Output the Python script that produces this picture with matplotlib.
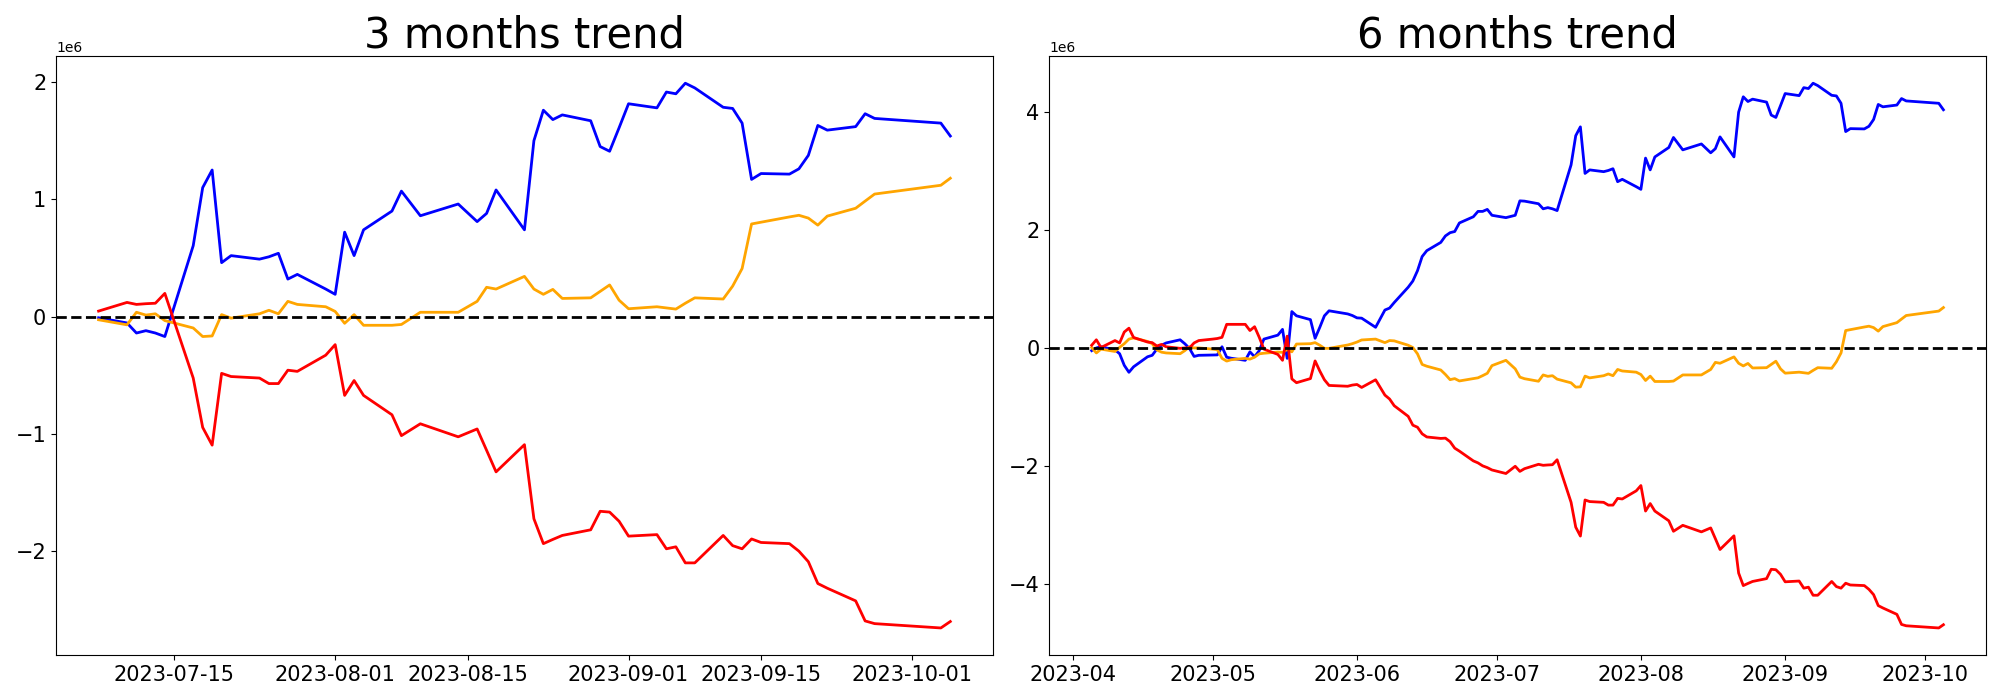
"""Recreate the 3 and 6 month trend chart."""

import matplotlib

matplotlib.use("Agg")
import matplotlib.pyplot as plt
import pandas as pd


# ---- 3 months panel (values in 1e6) ----
DATES_3M = [
    "2023-07-07", "2023-07-10", "2023-07-11", "2023-07-12", "2023-07-13", "2023-07-14",
    "2023-07-17", "2023-07-18", "2023-07-19", "2023-07-20", "2023-07-21", "2023-07-24",
    "2023-07-25", "2023-07-26", "2023-07-27", "2023-07-28", "2023-07-31", "2023-08-01",
    "2023-08-02", "2023-08-03", "2023-08-04", "2023-08-07", "2023-08-08", "2023-08-10",
    "2023-08-14", "2023-08-16", "2023-08-17", "2023-08-18", "2023-08-21", "2023-08-22",
    "2023-08-23", "2023-08-24", "2023-08-25", "2023-08-28", "2023-08-29", "2023-08-30",
    "2023-08-31", "2023-09-01", "2023-09-04", "2023-09-05", "2023-09-06", "2023-09-07",
    "2023-09-08", "2023-09-11", "2023-09-12", "2023-09-13", "2023-09-14", "2023-09-15",
    "2023-09-18", "2023-09-19", "2023-09-20", "2023-09-21", "2023-09-22", "2023-09-25",
    "2023-09-26", "2023-09-27", "2023-10-04", "2023-10-05",
]
BLUE_3M = [
    -0.01, -0.054, -0.14, -0.12, -0.14, -0.17,
    0.605, 1.10, 1.25, 0.46, 0.52, 0.49,
    0.51, 0.54, 0.32, 0.36, 0.235, 0.19,
    0.72, 0.52, 0.74, 0.90, 1.07, 0.86,
    0.96, 0.81, 0.88, 1.08, 0.74, 1.50,
    1.76, 1.68, 1.72, 1.67, 1.45, 1.41,
    1.61, 1.815, 1.78, 1.915, 1.90, 1.99,
    1.95, 1.785, 1.775, 1.65, 1.17, 1.22,
    1.215, 1.26, 1.375, 1.63, 1.59, 1.62,
    1.73, 1.69, 1.65, 1.54,
]
ORANGE_3M = [
    -0.027, -0.07, 0.037, 0.013, 0.024, -0.034,
    -0.097, -0.17, -0.165, 0.017, -0.013, 0.024,
    0.054, 0.024, 0.13, 0.104, 0.084, 0.044,
    -0.057, 0.017, -0.074, -0.074, -0.067, 0.037,
    0.037, 0.13, 0.25, 0.235, 0.343, 0.235,
    0.19, 0.232, 0.155, 0.16, 0.215, 0.27,
    0.14, 0.067, 0.084, 0.074, 0.064, 0.114,
    0.16, 0.15, 0.26, 0.41, 0.79, 0.805,
    0.85, 0.864, 0.84, 0.78, 0.857, 0.924,
    0.985, 1.045, 1.12, 1.18,
]
RED_3M = [
    0.047, 0.121, 0.104, 0.11, 0.114, 0.198,
    -0.524, -0.945, -1.096, -0.484, -0.511, -0.524,
    -0.571, -0.571, -0.457, -0.467, -0.329, -0.239,
    -0.672, -0.545, -0.672, -0.837, -1.015, -0.914,
    -1.025, -0.958, -1.14, -1.324, -1.092, -1.724,
    -1.936, -1.90, -1.866, -1.818, -1.66, -1.667,
    -1.745, -1.872, -1.859, -1.98, -1.963, -2.10,
    -2.10, -1.866, -1.953, -1.98, -1.896, -1.926,
    -1.936, -2.0, -2.09, -2.276, -2.316, -2.424,
    -2.595, -2.618, -2.655, -2.60,
]

# ---- 6 months panel (values in 1e6) ----
DATES_6M = [
    "2023-04-05", "2023-04-06", "2023-04-07", "2023-04-10", "2023-04-11", "2023-04-12",
    "2023-04-13", "2023-04-14", "2023-04-17", "2023-04-18", "2023-04-19", "2023-04-20",
    "2023-04-21", "2023-04-24", "2023-04-25", "2023-04-26", "2023-04-27", "2023-04-28",
    "2023-05-01", "2023-05-02", "2023-05-03", "2023-05-04", "2023-05-05", "2023-05-08",
    "2023-05-09", "2023-05-10", "2023-05-11", "2023-05-12", "2023-05-15", "2023-05-16",
    "2023-05-17", "2023-05-18", "2023-05-19", "2023-05-22", "2023-05-23", "2023-05-24",
    "2023-05-25", "2023-05-26", "2023-05-30", "2023-05-31", "2023-06-01", "2023-06-02",
    "2023-06-05", "2023-06-07", "2023-06-08", "2023-06-09", "2023-06-12", "2023-06-13",
    "2023-06-14", "2023-06-15", "2023-06-16", "2023-06-19", "2023-06-20", "2023-06-21",
    "2023-06-22", "2023-06-23", "2023-06-26", "2023-06-27", "2023-06-28", "2023-06-29",
    "2023-06-30", "2023-07-03", "2023-07-05", "2023-07-06",
] + DATES_3M
BLUE_6M = [
    -0.046, 0.0, 0.02, -0.033, -0.098, -0.295,
    -0.413, -0.32, -0.15, -0.125, -0.02, 0.046,
    0.085, 0.138, 0.072, -0.007, -0.144, -0.125,
    -0.12, -0.118, 0.02, -0.157, -0.175, -0.21,
    -0.066, -0.15, -0.046, 0.15, 0.217, 0.315,
    -0.177, 0.617, 0.545, 0.48, 0.164, 0.348,
    0.545, 0.63, 0.577, 0.55, 0.51, 0.505,
    0.35, 0.643, 0.676, 0.77, 1.03, 1.135,
    1.31, 1.55, 1.65, 1.79, 1.90, 1.955,
    1.975, 2.12, 2.225, 2.316, 2.316, 2.35,
    2.25, 2.21, 2.25, 2.495,
    2.49, 2.446, 2.36, 2.38, 2.36, 2.33,
    3.105, 3.60, 3.75, 2.96, 3.02, 2.99,
    3.01, 3.04, 2.82, 2.86, 2.735, 2.69,
    3.22, 3.02, 3.24, 3.40, 3.57, 3.36,
    3.46, 3.31, 3.38, 3.58, 3.24, 4.00,
    4.26, 4.18, 4.22, 4.17, 3.95, 3.91,
    4.11, 4.315, 4.28, 4.415, 4.40, 4.49,
    4.45, 4.285, 4.275, 4.15, 3.67, 3.72,
    3.715, 3.76, 3.875, 4.13, 4.09, 4.12,
    4.23, 4.19, 4.15, 4.04,
]
ORANGE_6M = [
    0.007, -0.085, -0.02, -0.06, 0.01, 0.072,
    0.15, 0.17, 0.11, 0.072, -0.033, -0.072,
    -0.085, -0.098, -0.046, 0.02, 0.0, 0.0,
    -0.02, -0.03, -0.177, -0.223, -0.2, -0.177,
    -0.19, -0.157, -0.10, -0.09, -0.07, -0.075,
    -0.026, -0.066, 0.066, 0.072, 0.09, 0.046,
    -0.007, -0.007, 0.05, 0.072, 0.10, 0.135,
    0.15, 0.09, 0.125, 0.12, 0.046, 0.007,
    -0.10, -0.28, -0.31, -0.374, -0.45, -0.538,
    -0.52, -0.56, -0.52, -0.507, -0.47, -0.43,
    -0.30, -0.21, -0.355, -0.495,
    -0.522, -0.565, -0.458, -0.482, -0.471, -0.529,
    -0.592, -0.665, -0.66, -0.478, -0.508, -0.471,
    -0.441, -0.471, -0.365, -0.391, -0.411, -0.451,
    -0.552, -0.478, -0.569, -0.569, -0.562, -0.458,
    -0.458, -0.365, -0.245, -0.26, -0.152, -0.26,
    -0.305, -0.263, -0.34, -0.335, -0.28, -0.225,
    -0.355, -0.428, -0.411, -0.421, -0.431, -0.381,
    -0.335, -0.345, -0.235, -0.085, 0.295, 0.31,
    0.355, 0.369, 0.345, 0.285, 0.362, 0.429,
    0.49, 0.55, 0.625, 0.685,
]
RED_6M = [
    0.046, 0.138, 0.007, 0.125, 0.085, 0.27,
    0.335, 0.177, 0.10, 0.09, 0.033, 0.06,
    0.02, -0.007, 0.0, 0.0, 0.085, 0.125,
    0.15, 0.16, 0.18, 0.40, 0.40, 0.40,
    0.295, 0.36, 0.18, -0.02, -0.11, -0.21,
    0.20, -0.525, -0.59, -0.52, -0.22, -0.39,
    -0.54, -0.636, -0.65, -0.63, -0.62, -0.67,
    -0.54, -0.80, -0.866, -0.98, -1.16, -1.31,
    -1.345, -1.457, -1.51, -1.535, -1.53, -1.59,
    -1.70, -1.75, -1.916, -1.95, -2.0, -2.03,
    -2.07, -2.13, -2.007, -2.094,
    -2.048, -1.974, -1.991, -1.985, -1.981, -1.897,
    -2.619, -3.04, -3.191, -2.579, -2.606, -2.619,
    -2.666, -2.666, -2.552, -2.562, -2.424, -2.334,
    -2.767, -2.64, -2.767, -2.932, -3.11, -3.009,
    -3.12, -3.053, -3.235, -3.419, -3.187, -3.819,
    -4.031, -3.995, -3.961, -3.913, -3.755, -3.762,
    -3.84, -3.967, -3.954, -4.075, -4.058, -4.195,
    -4.195, -3.961, -4.048, -4.075, -3.991, -4.021,
    -4.031, -4.095, -4.185, -4.371, -4.411, -4.519,
    -4.69, -4.713, -4.75, -4.695,
]

SCALE = 1e6


def plot_panel(ax, dates, blue, orange, red, title):
    x = pd.to_datetime(dates)
    ax.plot(x, [v * SCALE for v in blue], color="blue", linewidth=2)
    ax.plot(x, [v * SCALE for v in orange], color="orange", linewidth=2)
    ax.plot(x, [v * SCALE for v in red], color="red", linewidth=2)
    ax.axhline(0, color="black", linestyle="--", linewidth=2)
    ax.set_title(title, fontsize=30)
    ax.tick_params(axis="both", labelsize=15)


def main():
    fig, (ax1, ax2) = plt.subplots(1, 2, figsize=(20, 7), dpi=100)
    plot_panel(ax1, DATES_3M, BLUE_3M, ORANGE_3M, RED_3M, "3 months trend")
    plot_panel(ax2, DATES_6M, BLUE_6M, ORANGE_6M, RED_6M, "6 months trend")

    fig.subplots_adjust(left=0.028, right=0.993, bottom=0.064, top=0.920, wspace=0.06)
    fig.savefig("out.png", dpi=100)
    plt.close(fig)


if __name__ == "__main__":
    main()
